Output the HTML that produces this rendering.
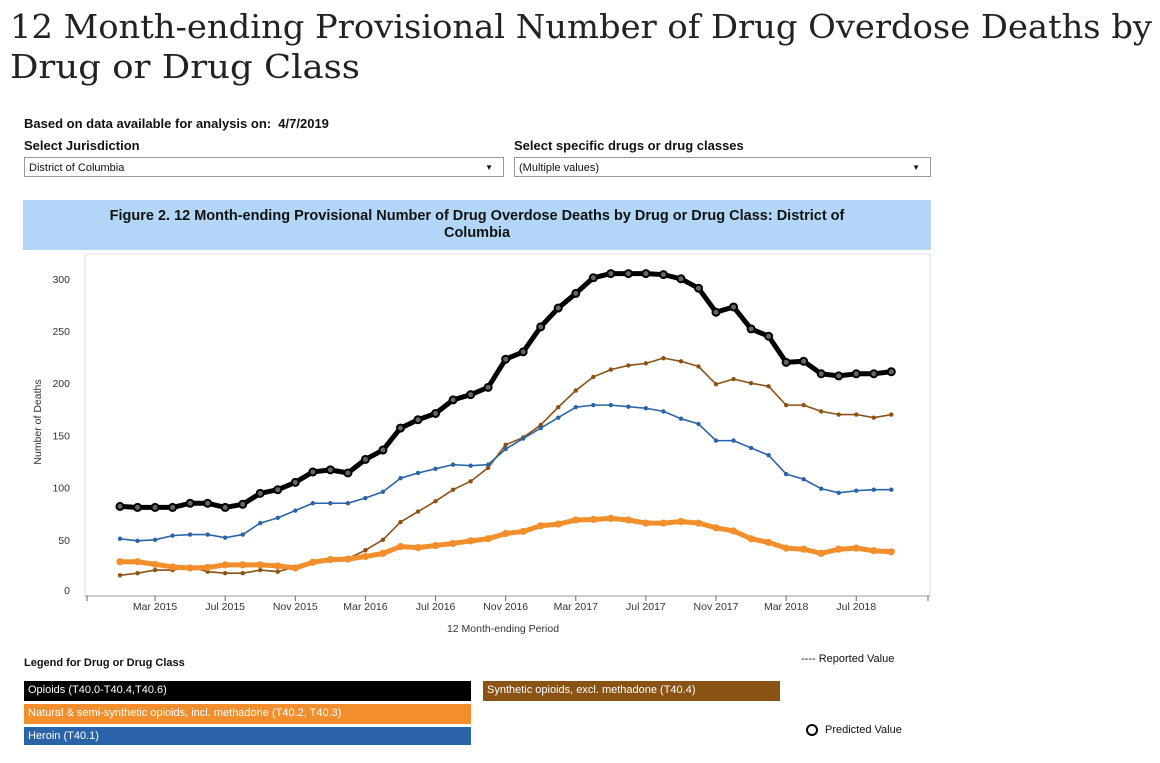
<!DOCTYPE html>
<html><head><meta charset="utf-8"><style>
body{margin:0;width:1160px;height:763px;background:#fff;font-family:"Liberation Sans",Arial,sans-serif;position:relative;overflow:hidden}
.a{position:absolute}
.lbl{font-size:13px;font-weight:bold;color:#111}
.dd{border:1px solid #999;height:20px;font-size:11px;line-height:20px;padding-left:4px;box-sizing:border-box;color:#111}
.dd span{position:absolute;right:10px;top:0;font-size:8px}
.leg{font-size:11px;color:#fff;padding-left:4px;line-height:19px;box-sizing:border-box}
</style></head><body>
<svg class="a" style="left:0;top:0" width="1160" height="90">
<text x="10" y="38" font-family="DejaVu Serif, serif" font-size="33" fill="#222" textLength="1142" lengthAdjust="spacingAndGlyphs">12 Month-ending Provisional Number of Drug Overdose Deaths by</text>
<text x="10" y="78" font-family="DejaVu Serif, serif" font-size="33" fill="#222" textLength="350" lengthAdjust="spacingAndGlyphs">Drug or Drug Class</text>
</svg>
<div class="a lbl" style="left:24px;top:116px">Based on data available for analysis on:&nbsp; 4/7/2019</div>
<div class="a lbl" style="left:24px;top:138px">Select Jurisdiction</div>
<div class="a dd" style="left:24px;top:157px;width:480px">District of Columbia<span>▼</span></div>
<div class="a lbl" style="left:514px;top:138px">Select specific drugs or drug classes</div>
<div class="a dd" style="left:514px;top:157px;width:417px">(Multiple values)<span>▼</span></div>
<div class="a" style="left:23px;top:200px;width:908px;height:50px;background:#b3d6f6;font-size:14.5px;font-weight:bold;text-align:center;line-height:17px;padding-top:8px;box-sizing:border-box;color:#111">Figure 2. 12 Month-ending Provisional Number of Drug Overdose Deaths by Drug or Drug Class: District of<br>Columbia</div>
<svg class="a" style="left:0;top:0" width="1160" height="763" id="chart"></svg>
<div class="a lbl" style="left:24px;top:657px;font-size:11px">Legend for Drug or Drug Class</div>
<div class="a leg" style="left:24px;top:681px;width:447px;height:20px;background:#000">Opioids (T40.0-T40.4,T40.6)</div>
<div class="a leg" style="left:24px;top:704px;width:447px;height:20px;background:#f28e2b">Natural &amp; semi-synthetic opioids, incl. methadone (T40.2, T40.3)</div>
<div class="a leg" style="left:24px;top:727px;width:447px;height:18px;background:#2a63a8;line-height:18px">Heroin (T40.1)</div>
<div class="a leg" style="left:483px;top:681px;width:297px;height:20px;background:#8b5215">Synthetic opioids, excl. methadone (T40.4)</div>
<div class="a" style="left:801px;top:653px;font-size:11px;color:#111">---- Reported Value</div>
<div class="a" style="left:806px;top:724px;width:8px;height:8px;border:2px solid #000;border-radius:50%"></div>
<div class="a" style="left:825px;top:724px;font-size:11px;color:#111">Predicted Value</div>
<script>
const tickLabels=["Mar 2015","Jul 2015","Nov 2015","Mar 2016","Jul 2016","Nov 2016","Mar 2017","Jul 2017","Nov 2017","Mar 2018","Jul 2018"];
const yTicks=[0,50,100,150,200,250,300];
const opioids=[82,81,81,81,85,85,81,84,94.5,98,105,115,117,114,127,136,157,165,171,184,189,196,223,230,254,272,286,301,305,305,305,304,300,291,268,273,252,245,220,221,209,207,209,209,211];
const heroin=[51,49,50,54,55,55,52,55,66,71,78,85,85,85,90,96,109,114,118,122,121,122,137,147,157,167,177,179,179,177.5,176,173,166,161,145,145,138,131,113,108,99,95,97,98,98];
const synthetic=[16,18,21,21,24,19.5,18,18,21,19.5,24,29,32,32,40,50,67,77,87,98,106,119,141,148,160,177,193,206,213,217,219,224,221,216,199,204,200,197,179,179,173,170,170,167,170];
const natural=[29,29,26.5,24,23,23.5,26,26,26,25,23,28.5,31,31.5,34,37,43.5,42.5,44.5,46.5,49,51,56,58,63.5,65,69,69.5,70.5,69,66,66,67.5,66,61.5,58.5,51,47.5,42,41,37,41,42,39.5,38.5];
const svg=document.getElementById('chart');const NS='http://www.w3.org/2000/svg';
const x=i=>120+i*17.53, y=v=>592-v*1.044;
function mk(t,a,p){const e=document.createElementNS(NS,t);for(const k in a)e.setAttribute(k,a[k]);(p||svg).appendChild(e);return e;}
const frame=mk('rect',{x:85,y:254,width:845,height:342,fill:'none',stroke:'#ddd'});


const ax=mk('line',{x1:85,y1:596,x2:930,y2:596,stroke:'#999'});


yTicks.forEach(v=>{const t=mk('text',{x:70,y:(v===0?y(v)-2:y(v))+4,'text-anchor':'end','font-size':10.5,fill:'#333'});t.textContent=v;

});
[87,928].forEach(p=>mk('line',{x1:p,y1:596,x2:p,y2:601,stroke:'#666'}));
tickLabels.forEach((l,k)=>{const i=2+4*k;mk('line',{x1:x(i),y1:596,x2:x(i),y2:601,stroke:'#666'});
const t=mk('text',{x:x(i),y:610,'text-anchor':'middle','font-size':10.5,fill:'#333'});t.textContent=l;

});
const xt=mk('text',{x:503,y:632,'text-anchor':'middle','font-size':10.5,fill:'#333'});xt.textContent='12 Month-ending Period';


const yt=mk('text',{x:0,y:0,'text-anchor':'middle','font-size':10.5,fill:'#333',transform:'translate(41,422) rotate(-90)'});yt.textContent='Number of Deaths';


function series(d,col,w,r,name,open){const g=mk('g',{});


mk('polyline',{points:d.map((v,i)=>x(i)+','+y(v)).join(' '),fill:'none',stroke:col,'stroke-width':w,'stroke-linejoin':'round'},g);
d.forEach((v,i)=>{const c=mk('circle',{cx:x(i),cy:y(v),r:r,fill:open?'#666':col,stroke:col,'stroke-width':open?2:0},g);

});}
series(synthetic,'#8b5215',1.6,2.2,'synthetic-line',false);
series(heroin,'#2a63a8',1.6,2.2,'heroin-line',false);
series(natural,'#f28e2b',5,3.6,'natural-line',false);
series(opioids,'#000',5,3.5,'opioids-line',true);
</script>
</body></html>
